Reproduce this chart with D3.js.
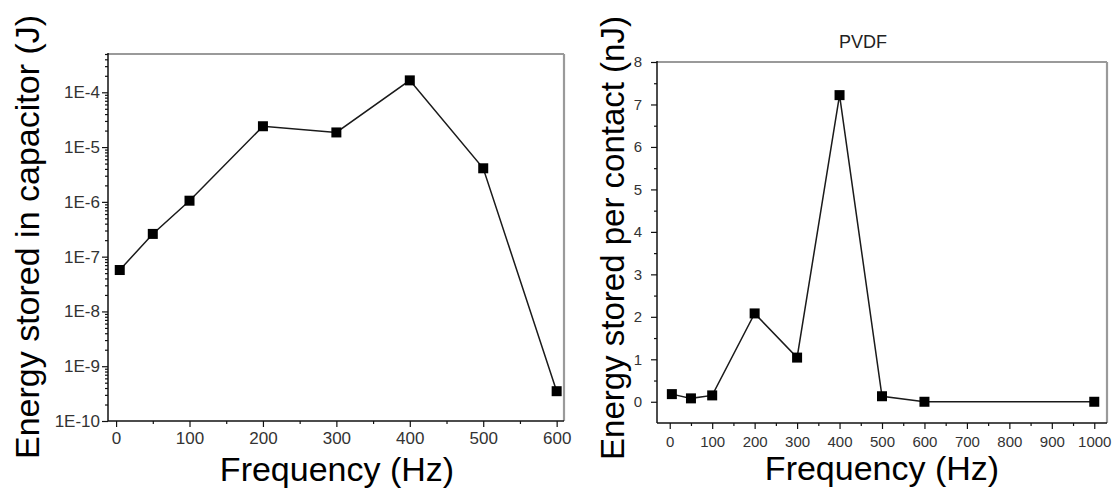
<!DOCTYPE html>
<html>
<head>
<meta charset="utf-8">
<script src="https://cdn.jsdelivr.net/npm/d3@7"></script>
<style>
  html, body { margin: 0; padding: 0; background: #fff; }
  svg { display: block; font-family: "Liberation Sans", Arial, sans-serif; }
</style>
</head>
<body>
<svg id="chart" width="1118" height="490"></svg>
<script>
// Left panel: energy stored in the capacitor (J) vs. frequency
const capFreq   = [5, 50, 100, 200, 300, 400, 500, 600];
const capEnergy = [5.7e-8, 2.6e-7, 1.05e-6, 2.4e-5, 1.85e-5, 1.65e-4, 4.1e-6, 3.5e-10];
const capXTicks = [0, 100, 200, 300, 400, 500, 600];
const capYTicks = [1e-10, 1e-9, 1e-8, 1e-7, 1e-6, 1e-5, 1e-4];

// Right panel: PVDF energy stored per contact (nJ) vs. frequency
const pvdfFreq   = [5, 50, 100, 200, 300, 400, 500, 600, 1000];
const pvdfEnergy = [0.18, 0.08, 0.15, 2.08, 1.04, 7.22, 0.13, 0, 0];
const pvdfXTicks = [0, 100, 200, 300, 400, 500, 600, 700, 800, 900, 1000];
const pvdfYTicks = [0, 1, 2, 3, 4, 5, 6, 7, 8];

const svg = d3.select("#chart");
const INK = "#111";
const FRAME = "#9a9a9a";

function styleAxis(g, fontSize) {
  g.select(".domain").remove();
  g.selectAll(".tick line").attr("stroke", INK).attr("stroke-width", 1.2);
  g.selectAll(".tick text")
    .attr("fill", "#333")
    .style("font-size", fontSize + "px")
    .style("font-family", '"Liberation Sans", Arial, sans-serif');
}

function frame(box) {
  // grey top / right border, dark left / bottom axes
  svg.append("line").attr("x1", box.x0).attr("x2", box.x1).attr("y1", box.y0).attr("y2", box.y0)
    .attr("stroke", FRAME).attr("stroke-width", 2.2);
  svg.append("line").attr("x1", box.x1).attr("x2", box.x1).attr("y1", box.y0).attr("y2", box.y1)
    .attr("stroke", FRAME).attr("stroke-width", 2.2);
  svg.append("line").attr("x1", box.x0).attr("x2", box.x0).attr("y1", box.y0 - 1).attr("y2", box.y1)
    .attr("stroke", INK).attr("stroke-width", 1.5);
  svg.append("line").attr("x1", box.x0).attr("x2", box.x1).attr("y1", box.y1).attr("y2", box.y1)
    .attr("stroke", INK).attr("stroke-width", 1.5);
}

function series(xs, ys, x, y, size) {
  const pts = xs.map((f, i) => [x(f), y(ys[i])]);
  svg.append("path")
    .attr("d", d3.line()(pts))
    .attr("fill", "none").attr("stroke", "#1a1a1a").attr("stroke-width", 1.5);
  svg.append("g").selectAll("rect").data(pts).join("rect")
    .attr("x", d => d[0] - size / 2).attr("y", d => d[1] - size / 2)
    .attr("width", size).attr("height", size).attr("fill", "#000");
}

function yTitle(text, cx, cy, size) {
  svg.append("text")
    .attr("transform", `translate(${cx},${cy}) rotate(-90)`)
    .attr("text-anchor", "middle")
    .style("font-size", size + "px").attr("fill", "#000")
    .text(text);
}

function xTitle(text, cx, by, size) {
  svg.append("text").attr("x", cx).attr("y", by)
    .attr("text-anchor", "middle")
    .style("font-size", size + "px").attr("fill", "#000")
    .text(text);
}

// ---------- left panel ----------
{
  const box = { x0: 108, x1: 564, y0: 54, y1: 421 };
  const x = d3.scaleLinear().domain([-11, 610]).range([box.x0, box.x1]);
  const y = d3.scaleLog().domain([1e-10, 5e-4]).range([box.y1, box.y0]);

  const minorY = [];
  for (let e = -10; e <= -4; e++) for (let m = 2; m <= 9; m++) {
    const v = m * Math.pow(10, e);
    if (v <= 5e-4) minorY.push(v);
  }
  svg.append("g").attr("transform", `translate(${box.x0},0)`)
    .call(d3.axisLeft(y).tickValues(minorY).tickSize(3).tickFormat(""))
    .call(g => styleAxis(g, 17));
  svg.append("g").attr("transform", `translate(${box.x0},0)`)
    .call(d3.axisLeft(y).tickValues(capYTicks).tickSize(6).tickPadding(2)
      .tickFormat(v => "1E" + Math.round(Math.log10(v))))
    .call(g => styleAxis(g, 17));

  svg.append("g").attr("transform", `translate(0,${box.y1})`)
    .call(d3.axisBottom(x).tickValues([50, 150, 250, 350, 450, 550]).tickSize(3).tickFormat(""))
    .call(g => styleAxis(g, 17));
  svg.append("g").attr("transform", `translate(0,${box.y1})`)
    .call(d3.axisBottom(x).tickValues(capXTicks).tickSize(6).tickPadding(5).tickFormat(d3.format("d")))
    .call(g => styleAxis(g, 17));

  frame(box);
  series(capFreq, capEnergy, x, y, 10);

  yTitle("Energy stored in capacitor (J)", 39, 237, 34);
  xTitle("Frequency (Hz)", 337, 481, 34);
}

// ---------- right panel ----------
{
  const box = { x0: 657, x1: 1107, y0: 62, y1: 423 };
  const x = d3.scaleLinear().domain([-30, 1030]).range([box.x0, box.x1]);
  const y = d3.scaleLinear().domain([-0.5, 8]).range([box.y1, box.y0]);

  svg.append("g").attr("transform", `translate(${box.x0},0)`)
    .call(d3.axisLeft(y).tickValues(d3.range(0.5, 8, 1)).tickSize(3).tickFormat(""))
    .call(g => styleAxis(g, 15));
  svg.append("g").attr("transform", `translate(${box.x0},0)`)
    .call(d3.axisLeft(y).tickValues(pvdfYTicks).tickSize(6).tickPadding(9).tickFormat(d3.format("d")))
    .call(g => styleAxis(g, 15));

  svg.append("g").attr("transform", `translate(0,${box.y1})`)
    .call(d3.axisBottom(x).tickValues(d3.range(50, 1000, 100)).tickSize(3).tickFormat(""))
    .call(g => styleAxis(g, 15));
  svg.append("g").attr("transform", `translate(0,${box.y1})`)
    .call(d3.axisBottom(x).tickValues(pvdfXTicks).tickSize(6).tickPadding(7).tickFormat(d3.format("d")))
    .call(g => styleAxis(g, 15));

  frame(box);
  series(pvdfFreq, pvdfEnergy, x, y, 10);

  svg.append("text").attr("x", 863).attr("y", 48).attr("text-anchor", "middle")
    .style("font-size", "18px").attr("fill", "#222").text("PVDF");

  yTitle("Energy stored per contact (nJ)", 624, 238, 33);
  xTitle("Frequency (Hz)", 882, 480, 34);
}
</script>
</body>
</html>
